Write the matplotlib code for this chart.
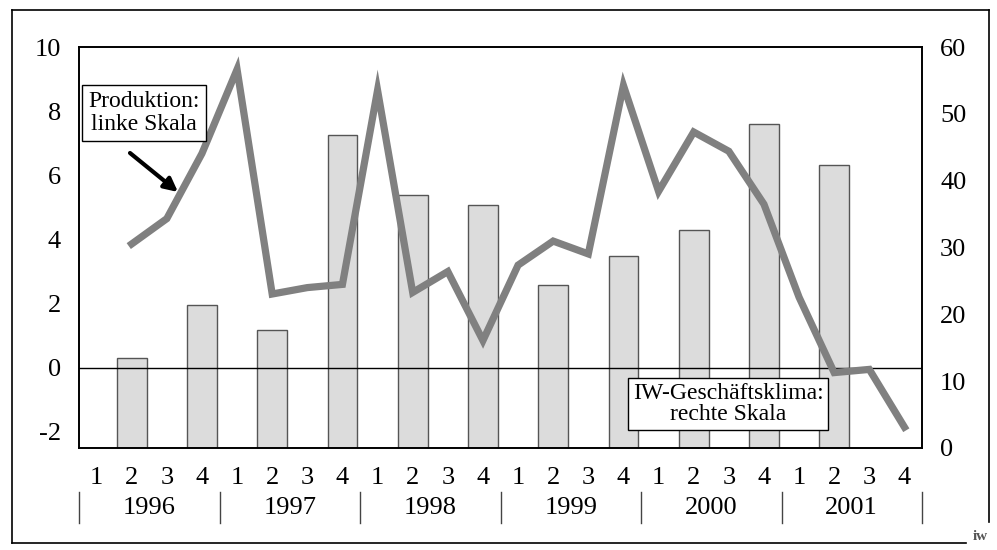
import numpy as np
import matplotlib
matplotlib.use("Agg")
import matplotlib.pyplot as plt
import matplotlib.transforms as mtransforms

plt.rcParams['font.family'] = ['Liberation Serif', 'DejaVu Serif']
plt.rcParams['axes.unicode_minus'] = False

# quarters 1996Q1 .. 2001Q4
years = ['1996', '1997', '1998', '1999', '2000', '2001']
quarters = ['1', '2', '3', '4']

# Produktion (left scale), line
produktion = [np.nan, 3.86, 4.65, 6.68, 9.3, 2.3, 2.5, 2.6,
              8.65, 2.35, 3.0, 0.85, 3.2, 3.95, 3.55, 8.8,
              5.5, 7.35, 6.75, 5.1, 2.2, -0.15, -0.05, -1.85]

# IW-Geschaeftsklima (right scale), bars, half-year values
klima = [np.nan, 13.5, np.nan, 21.4, np.nan, 17.6, np.nan, 46.8,
         np.nan, 37.8, np.nan, 36.3, np.nan, 24.4, np.nan, 28.8,
         np.nan, 32.6, np.nan, 48.5, np.nan, 42.4, np.nan, np.nan]

x = np.arange(len(produktion))
fs = 19

fig = plt.figure(figsize=(9.97, 5.5), dpi=100)
ax = fig.add_axes([79/997, 1 - 448/550, (922 - 79)/997, (448 - 47)/550])
ax2 = ax.twinx()

# bars on the right axis, drawn below the line
ax2.bar(x, np.nan_to_num(klima), width=0.85, color='#dcdcdc', edgecolor='#555555',
        linewidth=1.0, zorder=1)
ax2.set_ylim(0, 60)
ax2.set_yticks([0, 10, 20, 30, 40, 50, 60])
ax2.tick_params(axis='y', length=0, pad=13, labelsize=fs)

ax.set_zorder(ax2.get_zorder() + 1)
ax.patch.set_visible(False)
ax.axhline(0, color='black', lw=1.0, zorder=2)
ax.plot(x, produktion, color='#808080', lw=5.2, solid_joinstyle='miter', zorder=3)
ax.set_ylim(-2.5, 10)
ax.set_yticks([-2, 0, 2, 4, 6, 8, 10])
ax.tick_params(axis='y', length=0, pad=13, labelsize=fs)
ax.set_xlim(-0.5, len(x) - 0.5)
ax.set_xticks([])

for a in (ax, ax2):
    for s in a.spines.values():
        s.set_linewidth(1.2)

# category labels below the axis
trans = mtransforms.blended_transform_factory(ax.transData, ax.transAxes)
for i in x:
    ax.text(i, -0.075, quarters[i % 4], transform=trans, ha='center', va='center', fontsize=fs)
for j, yr in enumerate(years):
    ax.text(j * 4 + 1.5, -0.15, yr, transform=trans, ha='center', va='center', fontsize=fs)
for j in range(len(years) + 1):
    ax.plot([j * 4 - 0.5] * 2, [-0.11, -0.187], transform=trans, color='#444444',
            lw=1.0, clip_on=False)

# annotation boxes
ax.text(144/997, 1 - 113/550, 'Produktion:\nlinke Skala', transform=fig.transFigure,
        ha='center', va='center', fontsize=17, linespacing=1.1, zorder=5,
        bbox=dict(boxstyle='square,pad=0.25', fc='white', ec='black', lw=1.0))
ax.annotate('', xy=(178/997, 1 - 192/550), xytext=(130/997, 1 - 153/550),
            xycoords='figure fraction', textcoords='figure fraction',
            arrowprops=dict(arrowstyle='-|>,head_length=0.8,head_width=0.4', color='black',
                            lw=3, shrinkA=0, shrinkB=0), zorder=5)
ax.text(728/997, 1 - 404/550, 'IW-Geschäftsklima:\nrechte Skala', transform=fig.transFigure,
        ha='center', va='center', fontsize=17, linespacing=1.05, zorder=5,
        bbox=dict(boxstyle='square,pad=0.2', fc='white', ec='black', lw=1.0))

# outer frame with a small gap for the logo
fig.add_artist(plt.Line2D([12/997, 12/997], [1 - 10/550, 1 - 543/550], color='black', lw=1.2))
fig.add_artist(plt.Line2D([12/997, 989/997], [1 - 10/550, 1 - 10/550], color='black', lw=1.2))
fig.add_artist(plt.Line2D([989/997, 989/997], [1 - 10/550, 1 - 522/550], color='black', lw=1.2))
fig.add_artist(plt.Line2D([12/997, 966/997], [1 - 543/550, 1 - 543/550], color='black', lw=1.2))
fig.text(980/997, 1 - 537/550, 'iw', ha='center', va='center', fontsize=11,
         fontweight='bold', color='#555555')

fig.savefig('out.png', dpi=100)
